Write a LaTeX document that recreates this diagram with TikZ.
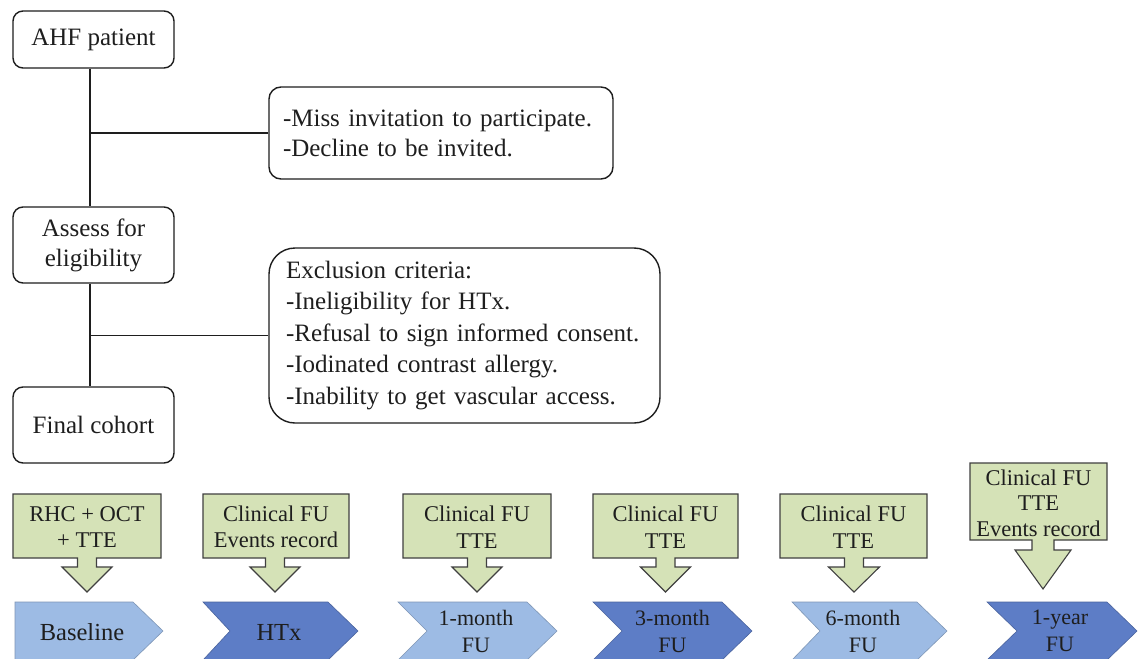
\documentclass[tikz,border=0pt]{standalone}
\usepackage{fontspec}
\setmainfont{Liberation Serif}
\definecolor{greenfill}{RGB}{213,226,183}
\definecolor{bluelight}{RGB}{157,187,228}
\definecolor{bluedark}{RGB}{93,125,198}
\definecolor{inkc}{RGB}{30,30,30}
\newcommand{\callshape}[9]{%
  \path[calloutshape] (#1,#3) -- (#2,#3) -- (#2,#4) -- ({#5+#6},#4) -- ({#5+#6},#8) -- ({#5+#7},#8) -- (#5,#9) -- ({#5-#7},#8) -- ({#5-#6},#8) -- ({#5-#6},#4) -- (#1,#4) -- cycle;}
\newcommand{\chevshape}[5]{%
  \path[#5] (#1,602) -- (#3,602) -- (#4,631) -- (#3,660) -- (#1,660) -- (#2,631) -- cycle;}
\begin{document}
\begin{tikzpicture}[x=1pt,y=-1pt,
  flowbox/.style={draw=inkc, line width=1.4pt, rounded corners=10pt, fill=white, text=inkc,
    minimum width=161pt, align=center, inner sep=0pt, font=\fontsize{25}{30}\selectfont},
  notebox/.style={draw=inkc, line width=1.4pt, fill=white, text=inkc, align=left},
  conn/.style={draw=inkc, line width=1.4pt},
  calloutshape/.style={draw=inkc!85, line width=1.1pt, fill=greenfill, line join=miter},
  calltext/.style={text=inkc, align=center, font=\fontsize{22.5}{26.5}\selectfont},
  chevlight/.style={fill=bluelight, draw=bluelight!80!black, line width=0.6pt},
  chevdark/.style={fill=bluedark, draw=bluedark!80!black, line width=0.6pt},
  chevtext/.style={text=inkc, align=center, font=\fontsize{22}{27}\selectfont},
  chevtextone/.style={text=inkc, align=center, font=\fontsize{24.5}{28}\selectfont}]
\useasboundingbox (0,0) rectangle (1139,658);
\clip (0,0) rectangle (1139,658);
\fill[white] (0,0) rectangle (1139,658);

% top flow
\node[flowbox, minimum height=57pt] (ahf) at (93.5,39.5) {AHF patient};
\node[flowbox, minimum height=76pt] (assess) at (93.5,245) {Assess for\\eligibility};
\node[flowbox, minimum height=76pt] (final) at (93.5,425) {Final cohort};
\node[notebox, rounded corners=12pt, text width=316pt, inner xsep=14pt, inner ysep=0pt,
  minimum height=92pt, font=\fontsize{25}{30}\selectfont] (miss) at (441,133)
  {-Miss invitation to participate.\\-Decline to be invited.};
\node[notebox, rounded corners=26pt, text width=357pt, inner xsep=17pt, inner ysep=0pt,
  minimum height=175pt, font=\fontsize{25}{31.5}\selectfont] (excl) at (464.5,335.5)
  {Exclusion criteria:\\-Ineligibility for HTx.\\-Refusal to sign informed consent.\\-Iodinated contrast allergy.\\-Inability to get vascular access.};
\coordinate (j1) at (90,133);
\coordinate (j2) at (90,335.5);
\draw[conn] (ahf.south -| j1) -- (assess.north -| j1);
\draw[conn] (assess.south -| j2) -- (final.north -| j2);
\draw[conn] (j1) -- (miss.west);
\draw[conn] (j2) -- (excl.west);

% callouts
\callshape{13}{161}{494}{558}{87}{9.5}{25}{567}{592}
\callshape{203}{349}{494}{558}{275}{9.5}{25}{567}{592}
\callshape{403}{551}{494}{558}{477}{9.5}{25}{567}{592}
\callshape{593}{738}{494}{558}{665.5}{9.5}{25}{567}{592}
\callshape{780}{927}{494}{558}{854}{9.5}{25.5}{567}{592}
\callshape{970}{1107}{463}{540}{1043}{11}{28}{550}{589}
\node[calltext] (c1) at (87,527) {RHC + OCT\\+ TTE};
\node[calltext] (c2) at (276,527) {Clinical FU\\Events record};
\node[calltext] (c3) at (477,527) {Clinical FU\\TTE};
\node[calltext] (c4) at (665.5,527) {Clinical FU\\TTE};
\node[calltext] (c5) at (853.5,527) {Clinical FU\\TTE};
\node[calltext, font=\fontsize{22.5}{25.5}\selectfont] (c6) at (1038.5,503) {Clinical FU\\TTE\\Events record};

% chevrons
\chevshape{15}{15}{133}{163}{chevlight}
\chevshape{203}{230}{328}{358}{chevdark}
\chevshape{398}{427}{527}{557}{chevlight}
\chevshape{593}{622}{722}{752}{chevdark}
\chevshape{792}{820}{917}{947}{chevlight}
\chevshape{987}{1017}{1107}{1137}{chevdark}
\node[chevtextone] (t1) at (82,632) {Baseline};
\node[chevtextone] (t2) at (279,632) {HTx};
\node[chevtext] (t3) at (476,631) {1-month\\FU};
\node[chevtext] (t4) at (672.5,631) {3-month\\FU};
\node[chevtext] (t5) at (863,631) {6-month\\FU};
\node[chevtext] (t6) at (1060,631) {1-year\\FU};
\end{tikzpicture}
\end{document}
